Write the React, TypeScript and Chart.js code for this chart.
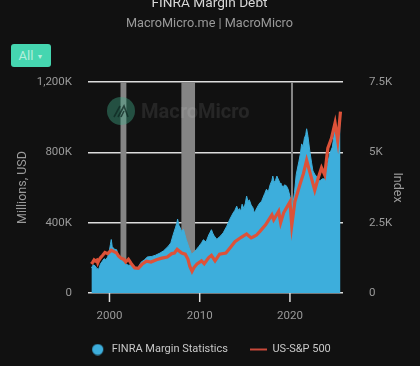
import React, { useEffect, useRef } from "react";
import { Chart, registerables } from "chart.js";

Chart.register(...registerables);

const FONT = "Roboto";
const xTicks = [2000, 2010, 2020];
const marginTicks = [0, 400, 800, 1200];
const indexTicks = [0, 2.5, 5, 7.5];

const marginYears = [
  1998.0, 1998.2, 1998.4, 1998.6, 1998.8, 1999.0, 1999.2, 1999.4, 1999.6, 1999.8, 2000.0, 2000.1, 2000.2, 2000.3, 2000.5, 2000.8, 2001.0, 2001.2,
  2001.5, 2001.8, 2002.1, 2002.4, 2002.8, 2003.1, 2003.5, 2003.9, 2004.2, 2004.7, 2005.1, 2005.6, 2006.0, 2006.5, 2006.8, 2007.07, 2007.3, 2007.45, 2007.55, 2007.7, 2007.8,
  2008.0, 2008.2, 2008.5, 2008.8, 2009.1, 2009.47, 2009.9, 2010.2, 2010.4, 2010.7, 2011.0, 2011.15, 2011.3, 2011.45, 2011.6, 2011.9, 2012.2, 2012.4, 2012.6, 2013.0, 2013.34, 2013.7,
  2013.9, 2014.1, 2014.25, 2014.4, 2014.55, 2014.7, 2014.9, 2015.05, 2015.2, 2015.35, 2015.5, 2015.7, 2015.9, 2016.05, 2016.2, 2016.45, 2016.67, 2016.85, 2017.0, 2017.2, 2017.4, 2017.6, 2017.8, 2018.0, 2018.1, 2018.25, 2018.4, 2018.55, 2018.7, 2018.9, 2019.0, 2019.25, 2019.4, 2019.6, 2019.8, 2020.0,
  2020.25, 2020.5, 2020.7, 2021.0, 2021.15, 2021.3, 2021.45, 2021.6, 2021.75, 2021.85, 2022.0, 2022.2, 2022.4, 2022.55, 2022.75, 2022.9, 2023.1, 2023.3, 2023.6, 2023.9, 2024.1, 2024.4, 2024.7, 2025.0, 2025.15, 2025.3, 2025.6,
];
const marginValues = [
  142, 160, 155, 140, 135, 165, 180, 195, 190, 205, 245, 275, 304, 265, 250, 246, 205, 190,
  175, 165, 158, 160, 142, 140, 175, 190, 205, 208, 215, 227, 240, 265, 285, 333, 370, 395, 420, 385, 375,
  350, 362, 305, 260, 220, 237, 265, 285, 303, 290, 330, 345, 360, 340, 325, 305, 320, 330, 342, 380, 420, 455,
  470, 494, 470, 480, 465, 505, 480, 510, 551, 520, 530, 500, 485, 455, 470, 495, 513, 520, 540, 565, 590, 575, 615, 640, 665, 630, 640, 665, 648, 625, 620, 600, 615, 610, 590, 551,
  480, 570, 675, 750, 790, 848, 830, 880, 900, 934, 890, 808, 740, 694, 675, 665, 650, 637, 650, 648, 720, 790, 830, 940, 900, 830, 1000,
];

const indexYears = [
  1998.0, 1998.15, 1998.3, 1998.45, 1998.6, 1998.7, 1998.8, 1999.0, 1999.25, 1999.5, 1999.8, 2000.2, 2000.5, 2000.8, 2001.0, 2001.3, 2001.6, 2001.8, 2002.1, 2002.4, 2002.8, 2003.2,
  2003.6, 2004.1, 2004.6, 2005.2, 2005.8, 2006.4, 2006.9, 2007.2, 2007.5, 2008.0, 2008.4, 2008.7, 2008.9, 2009.15, 2009.4, 2009.7, 2010.2, 2010.5, 2011.0, 2011.3,
  2011.7, 2012.2, 2012.9, 2013.4, 2013.9, 2014.6, 2015.2, 2015.7, 2015.95, 2016.3, 2016.7, 2017.3, 2018.0, 2018.2, 2018.75, 2018.97, 2019.3, 2020.0, 2020.2,
  2020.55, 2021.1, 2021.5, 2021.85, 2022.2, 2022.75, 2023.1, 2023.5, 2023.85, 2024.2, 2024.6, 2025.0, 2025.3, 2025.6,
];
const indexValues = [
  1.03, 1.1, 1.18, 1.14, 1.17, 1.07, 1.15, 1.25, 1.34, 1.44, 1.4, 1.52, 1.47, 1.42, 1.32, 1.23, 1.2, 1.1, 1.2, 1.05, 0.89, 0.88,
  1.02, 1.13, 1.1, 1.18, 1.24, 1.28, 1.4, 1.42, 1.55, 1.42, 1.38, 1.2, 0.95, 0.77, 0.92, 1.03, 1.14, 1.04, 1.26, 1.34,
  1.14, 1.38, 1.42, 1.62, 1.82, 1.98, 2.1, 1.96, 2.0, 2.06, 2.2, 2.42, 2.78, 2.6, 2.9, 2.5, 2.85, 3.24, 2.4,
  3.25, 3.85, 4.25, 4.72, 4.3, 3.65, 4.05, 4.45, 4.2, 5.15, 5.5, 6.05, 5.4, 6.45,
];

const recessionSpans = [[2001.2, 2001.9], [2007.95, 2009.5], [2020.1, 2020.35]];

function legendSwatch(kind: "circle" | "line", color: string) {
  const c = document.createElement("canvas");
  c.width = 17;
  c.height = 12;
  const g = c.getContext("2d")!;
  g.fillStyle = color;
  if (kind === "circle") {
    g.beginPath();
    g.arc(8.5, 6, 5.6, 0, Math.PI * 2);
    g.fill();
  } else {
    g.fillRect(0, 5, 17, 2);
  }
  return c;
}

export default function App() {
  const ref = useRef<HTMLCanvasElement>(null);
  useEffect(() => {
    document.body.style.margin = "0";
    document.body.style.background = "#111111";
    const recession: any[] = [];
    recessionSpans.forEach(([a, b]) => {
      recession.push({ x: a, y: 1200 }, { x: b, y: 1200 }, { x: b, y: null });
    });
    const circle = legendSwatch("circle", "#3DAEDC");
    const dash = legendSwatch("line", "#C9493A");
    const chart = new Chart(ref.current!, {
      type: "line",
      data: {
        datasets: [
          {
            label: "US-S&P 500",
            data: indexYears.map((x, i) => ({ x, y: indexValues[i] })),
            yAxisID: "yIndex",
            borderColor: "#DD5239",
            backgroundColor: "#DD5239",
            borderWidth: 3.2,
            pointRadius: 0,
            tension: 0,
            fill: false,
            order: 1,
          },
          {
            label: "FINRA Margin Statistics",
            data: marginYears.map((x, i) => ({ x, y: marginValues[i] })),
            yAxisID: "yMargin",
            borderColor: "#3DAEDC",
            backgroundColor: "#3DAEDC",
            borderWidth: 1,
            pointRadius: 0,
            tension: 0,
            fill: "origin",
            order: 2,
          },
          {
            label: "Recession",
            data: recession,
            yAxisID: "yMargin",
            borderWidth: 0,
            backgroundColor: "#858585",
            pointRadius: 0,
            tension: 0,
            spanGaps: false,
            fill: "origin",
            order: 3,
          },
        ],
      },
      options: {
        animation: false,
        responsive: false,
        events: [],
        parsing: false as any,
        layout: { padding: { top: 82, left: 15, right: 15, bottom: 1 } },
        scales: {
          x: {
            type: "linear",
            min: 1997.62,
            max: 2025.88,
            afterBuildTicks: (s: any) => { s.ticks = xTicks.map((value) => ({ value })); },
            afterFit: (s: any) => { s.height = 29; },
            grid: { display: false, drawTicks: true, tickLength: 9 },
            border: { display: false },
            ticks: { color: "#9a9a9a", font: { family: FONT, size: 11.5 }, maxRotation: 0, padding: 7, callback: (v: any) => String(v) },
          },
          yMargin: {
            position: "left",
            min: 0,
            max: 1200,
            afterBuildTicks: (s: any) => { s.ticks = marginTicks.map((value) => ({ value })); },
            afterFit: (s: any) => { s.width = 73; },
            grid: { color: "#dddddd", lineWidth: 1.5, drawTicks: false },
            border: { display: false },
            title: { display: true, text: "Millions, USD", color: "#9a9a9a", font: { family: FONT, size: 12.5 }, padding: 0 },
            ticks: {
              color: "#9a9a9a", font: { family: FONT, size: 11.5 }, padding: 16,
              callback: (v: any) => (v === 0 ? "0" : `${Number(v).toLocaleString("en-US")}K`),
            },
          },
          yIndex: {
            position: "right",
            min: 0,
            max: 7.5,
            afterBuildTicks: (s: any) => { s.ticks = indexTicks.map((value) => ({ value })); },
            afterFit: (s: any) => { s.width = 62; },
            grid: { display: false },
            border: { display: false },
            title: { display: true, text: "Index", color: "#9a9a9a", font: { family: FONT, size: 12.5 }, padding: 0 },
            ticks: {
              color: "#9a9a9a", font: { family: FONT, size: 11.5 }, padding: 18,
              callback: (v: any) => (v === 0 ? "0" : `${v}K`),
            },
          },
        },
        plugins: {
          title: { display: false },
          tooltip: { enabled: false },
          legend: {
            position: "bottom",
            labels: {
              color: "#c8c8c8",
              font: { family: FONT, size: 11 },
              usePointStyle: true,
              pointStyleWidth: 17,
              boxHeight: 11,
              padding: 22,
              generateLabels: () => [
                { text: "FINRA Margin Statistics", pointStyle: circle, fillStyle: "#3DAEDC", strokeStyle: "#3DAEDC", lineWidth: 0, hidden: false, fontColor: "#c8c8c8" },
                { text: "US-S&P 500", pointStyle: dash, fillStyle: "#C9493A", strokeStyle: "#C9493A", lineWidth: 0, hidden: false, fontColor: "#c8c8c8" },
              ],
            },
          },
        },
      },
      plugins: [
        {
          id: "xTickMarks",
          afterDatasetsDraw(c: any) {
            const { ctx, scales, chartArea } = c;
            ctx.save();
            ctx.strokeStyle = "#dddddd";
            ctx.lineWidth = 1.5;
            xTicks.forEach((t) => {
              const px = scales.x.getPixelForValue(t);
              ctx.beginPath();
              ctx.moveTo(px, chartArea.bottom);
              ctx.lineTo(px, chartArea.bottom + 9);
              ctx.stroke();
            });
            ctx.restore();
          },
        },
      ],
    });
    return () => chart.destroy();
  }, []);

  return (
    <div style={{ position: "relative", width: 420, height: 366, overflow: "hidden", background: "#111111", fontFamily: FONT }}>
      <canvas ref={ref} width={420} height={366} style={{ position: "absolute", left: 0, top: 0, width: 420, height: 366 }} />
      <div style={{ position: "absolute", left: 0, width: 419, top: -6, textAlign: "center", color: "#d8d8d8", fontSize: 13.7, lineHeight: "16px" }}>FINRA Margin Debt</div>
      <div style={{ position: "absolute", left: 0, width: 419, top: 15, textAlign: "center", color: "#9a9a9a", fontSize: 12.7, lineHeight: "16px" }}>MacroMicro.me | MacroMicro</div>
      <div style={{ position: "absolute", left: 11, top: 44, width: 40, height: 23, borderRadius: 3, background: "#45D6B0", color: "#b5eedd", fontSize: 13, lineHeight: "23px", textAlign: "center" }}>
        All <span style={{ fontSize: 7, verticalAlign: 1 }}>▼</span>
      </div>
      <svg width={28} height={28} viewBox="0 0 28 28" style={{ position: "absolute", left: 107, top: 97, pointerEvents: "none" }}>
        <circle cx={14} cy={14} r={14} fill="rgba(64,170,135,0.42)" />
        <path d="M7 20 L13 9 M11 20 L17 9 L21 20 M14 20 L17 14" stroke="rgba(15,40,35,0.75)" strokeWidth={1.6} fill="none" />
      </svg>
      <div style={{ position: "absolute", left: 141, top: 97, color: "rgba(255,255,255,0.09)", fontSize: 20, fontWeight: 700, lineHeight: "28px", pointerEvents: "none" }}>MacroMicro</div>
    </div>
  );
}
